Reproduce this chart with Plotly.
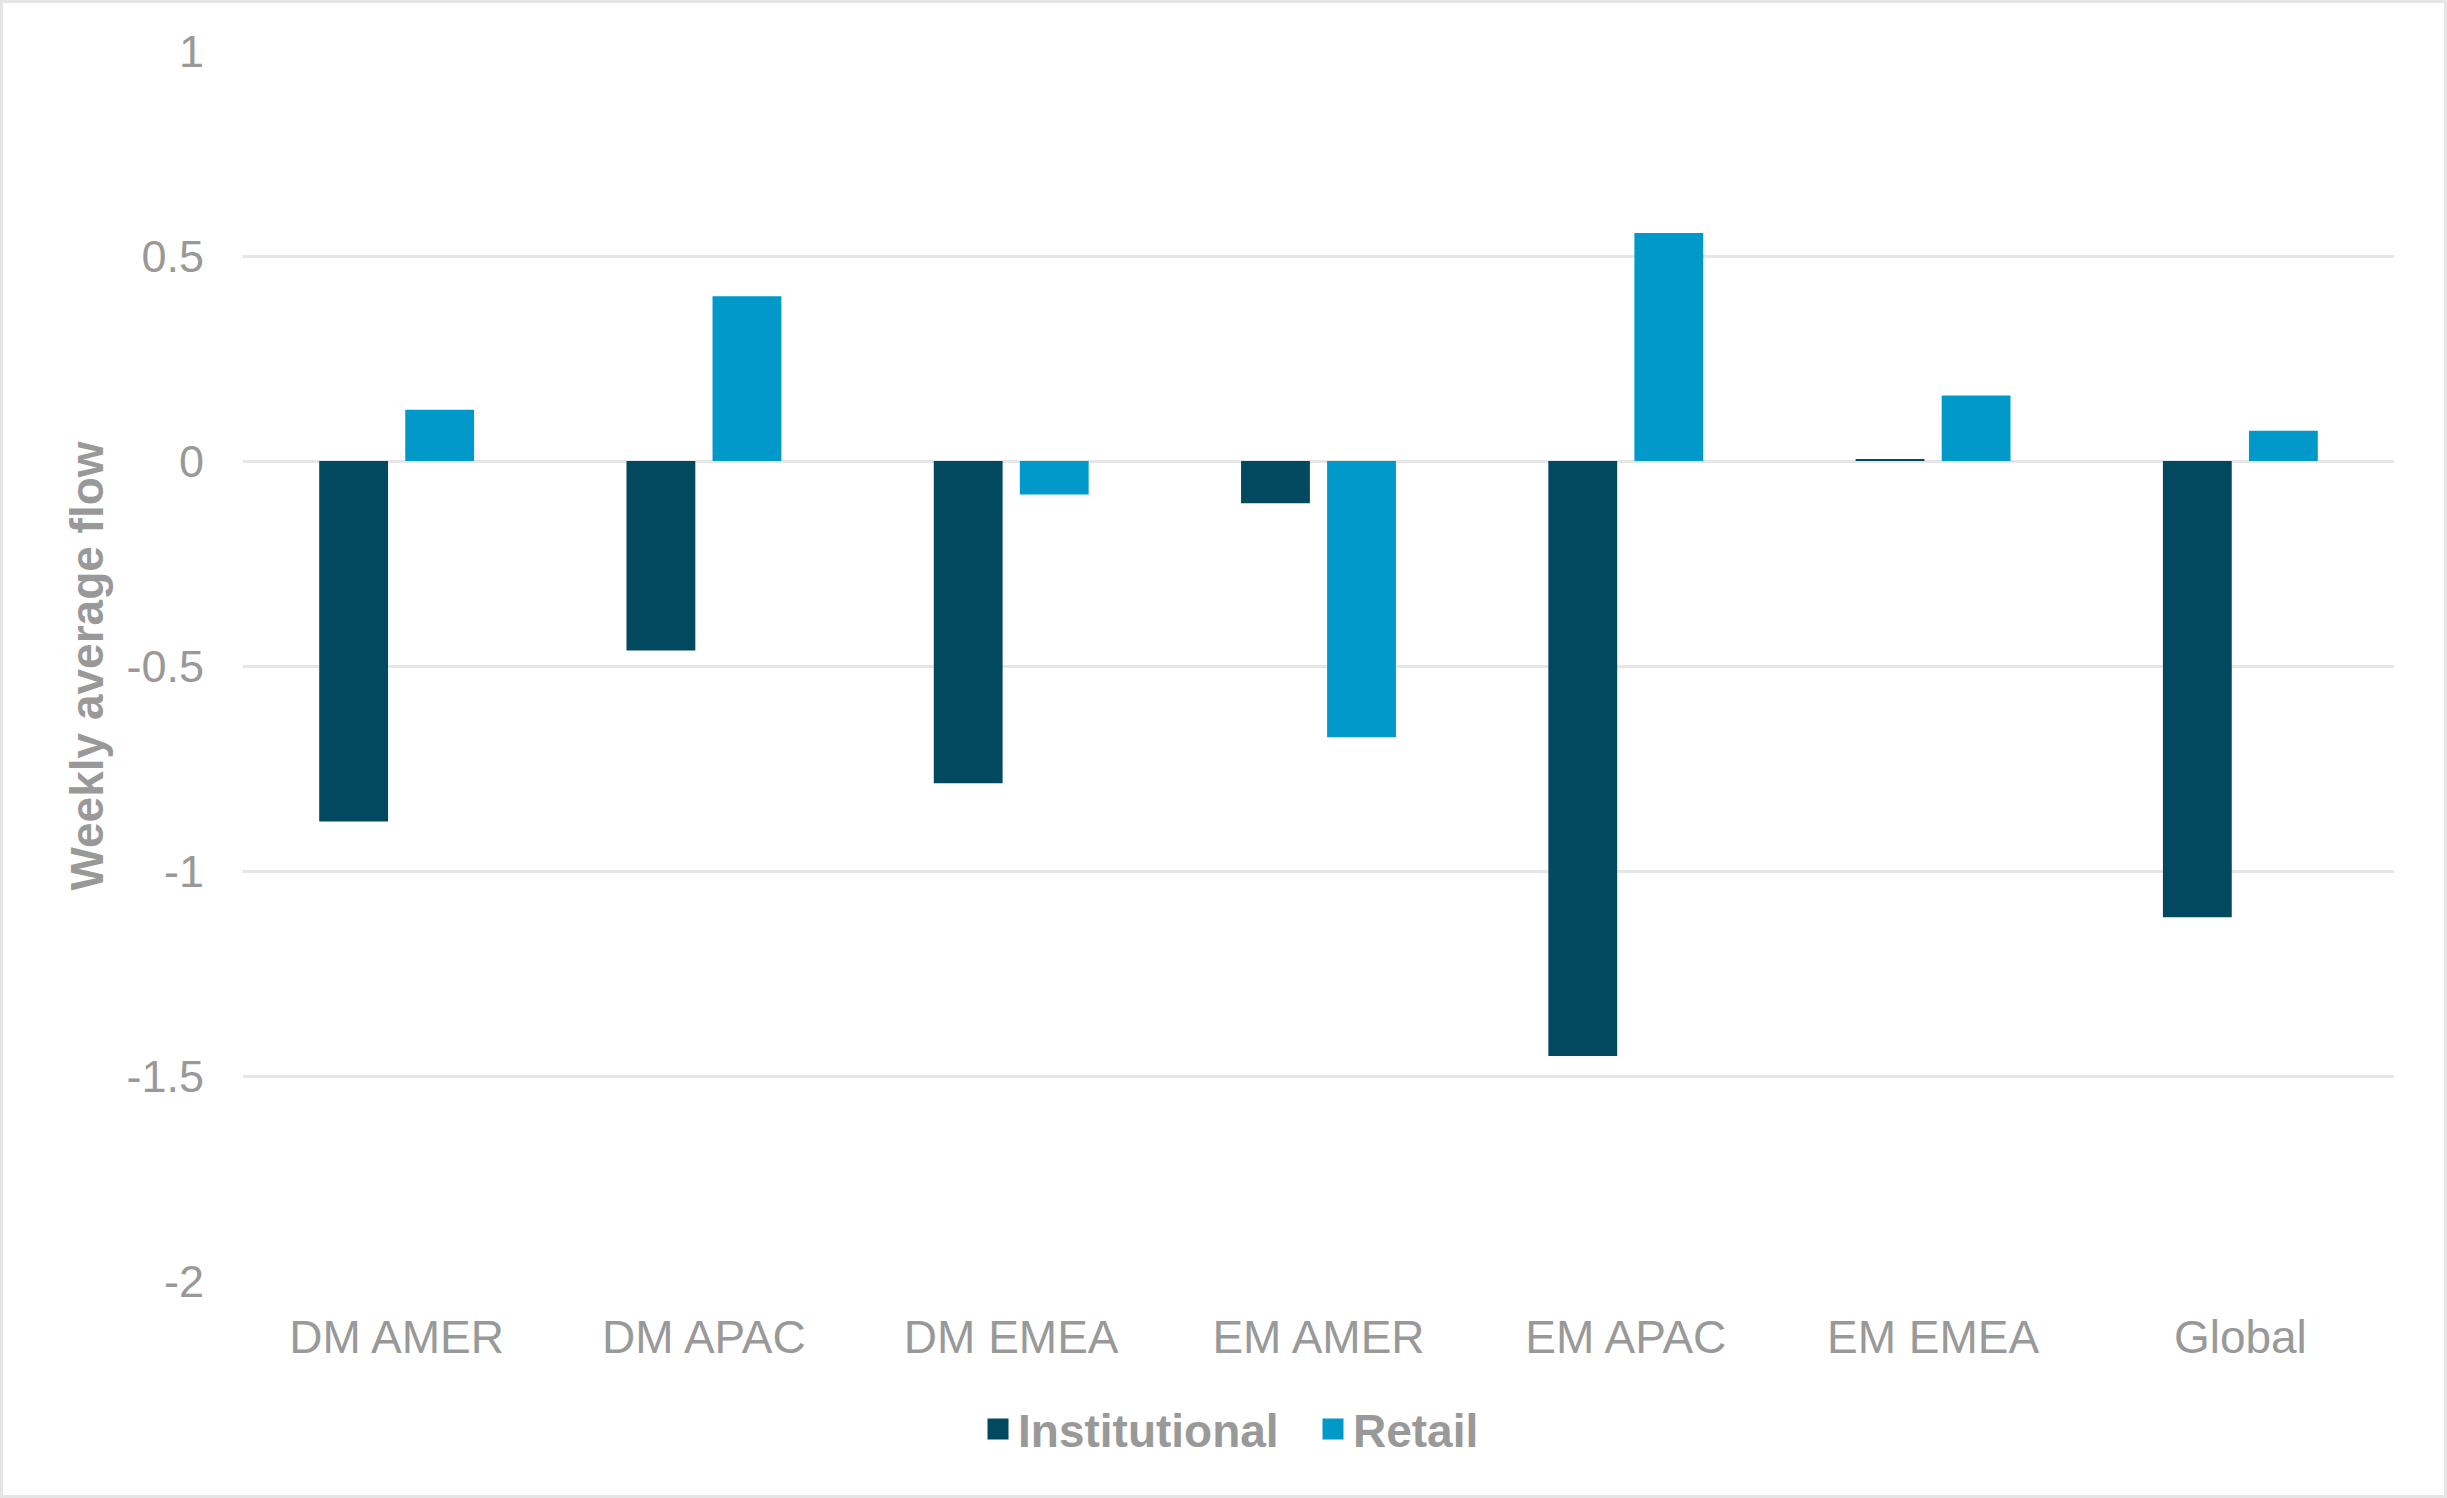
import plotly.graph_objects as go

categories = ["DM AMER", "DM APAC", "DM EMEA", "EM AMER", "EM APAC", "EM EMEA", "Global"]
institutional = [-0.879, -0.462, -0.786, -0.103, -1.451, 0.004, -1.113]
retail = [0.125, 0.402, -0.082, -0.674, 0.556, 0.160, 0.074]
y_tickvals = [1, 0.5, 0, -0.5, -1, -1.5, -2]
y_ticktext = ["1", "0.5", "0", "-0.5", "-1", "-1.5", "-2"]

W, H = 2447, 1498
ML, MR, MT, MB = 243, 53, 51, 217
PW, PH = W - ML - MR, H - MT - MB

C_INST = "#02495f"
C_RET = "#0099c9"
GRAY = "#999999"
GRID = "#e6e6e6"
FONT = "Liberation Sans, Arial, sans-serif"

fig = go.Figure()
fig.add_trace(go.Bar(x=categories, y=institutional, name="Institutional",
                     marker=dict(color=C_INST, line=dict(width=0)), showlegend=False))
fig.add_trace(go.Bar(x=categories, y=retail, name="Retail",
                     marker=dict(color=C_RET, line=dict(width=0)), showlegend=False))

# legend entries with larger square swatches
fig.add_trace(go.Scatter(x=[None], y=[None], mode="markers", name="Institutional",
                         marker=dict(symbol="square", size=16, color=C_INST,
                                     line=dict(color=C_INST, width=5)),
                         legendwidth=290))
fig.add_trace(go.Scatter(x=[None], y=[None], mode="markers", name="Retail",
                         marker=dict(symbol="square", size=16, color=C_RET,
                                     line=dict(color=C_RET, width=5))))

def px_to_paper_x(px):
    return (px - ML) / PW

def px_to_paper_y(py):
    return (H - MB - py) / PH

fig.update_layout(
    width=W, height=H,
    margin=dict(l=ML, r=MR, t=MT, b=MB, pad=0),
    paper_bgcolor="white", plot_bgcolor="white",
    barmode="group", bargap=0.44, bargroupgap=0.2,
    font=dict(family=FONT, size=45, color=GRAY),
    showlegend=True,
    legend=dict(orientation="h", x=px_to_paper_x(1231), xanchor="center",
                y=px_to_paper_y(1429), yanchor="middle",
                font=dict(family=FONT, size=46, color=GRAY, weight="bold"),
                bgcolor="rgba(0,0,0,0)", itemsizing="trace"),
    xaxis=dict(showgrid=False, showline=False, zeroline=False, ticks="",
               tickfont=dict(family=FONT, size=46, color=GRAY),
               ticklabelstandoff=25, automargin=False, fixedrange=True),
    yaxis=dict(range=[-2, 1], tickvals=y_tickvals, ticktext=y_ticktext,
               showgrid=True, gridcolor=GRID, gridwidth=2.7,
               zeroline=True, zerolinecolor=GRID, zerolinewidth=2.7,
               showline=False, ticks="",
               tickfont=dict(family=FONT, size=45, color=GRAY),
               ticklabelstandoff=38, automargin=False,
               title=dict(text="Weekly average flow", standoff=8,
                          font=dict(family=FONT, size=46, color=GRAY, weight="bold"))),
    shapes=[dict(type="rect", xref="paper", yref="paper",
                 x0=px_to_paper_x(1.5), x1=px_to_paper_x(W - 1.5),
                 y0=px_to_paper_y(H - 1.5), y1=px_to_paper_y(1.5),
                 line=dict(color="#e5e5e5", width=3), fillcolor="rgba(0,0,0,0)",
                 layer="below")],
)

fig.write_html("out.html")
